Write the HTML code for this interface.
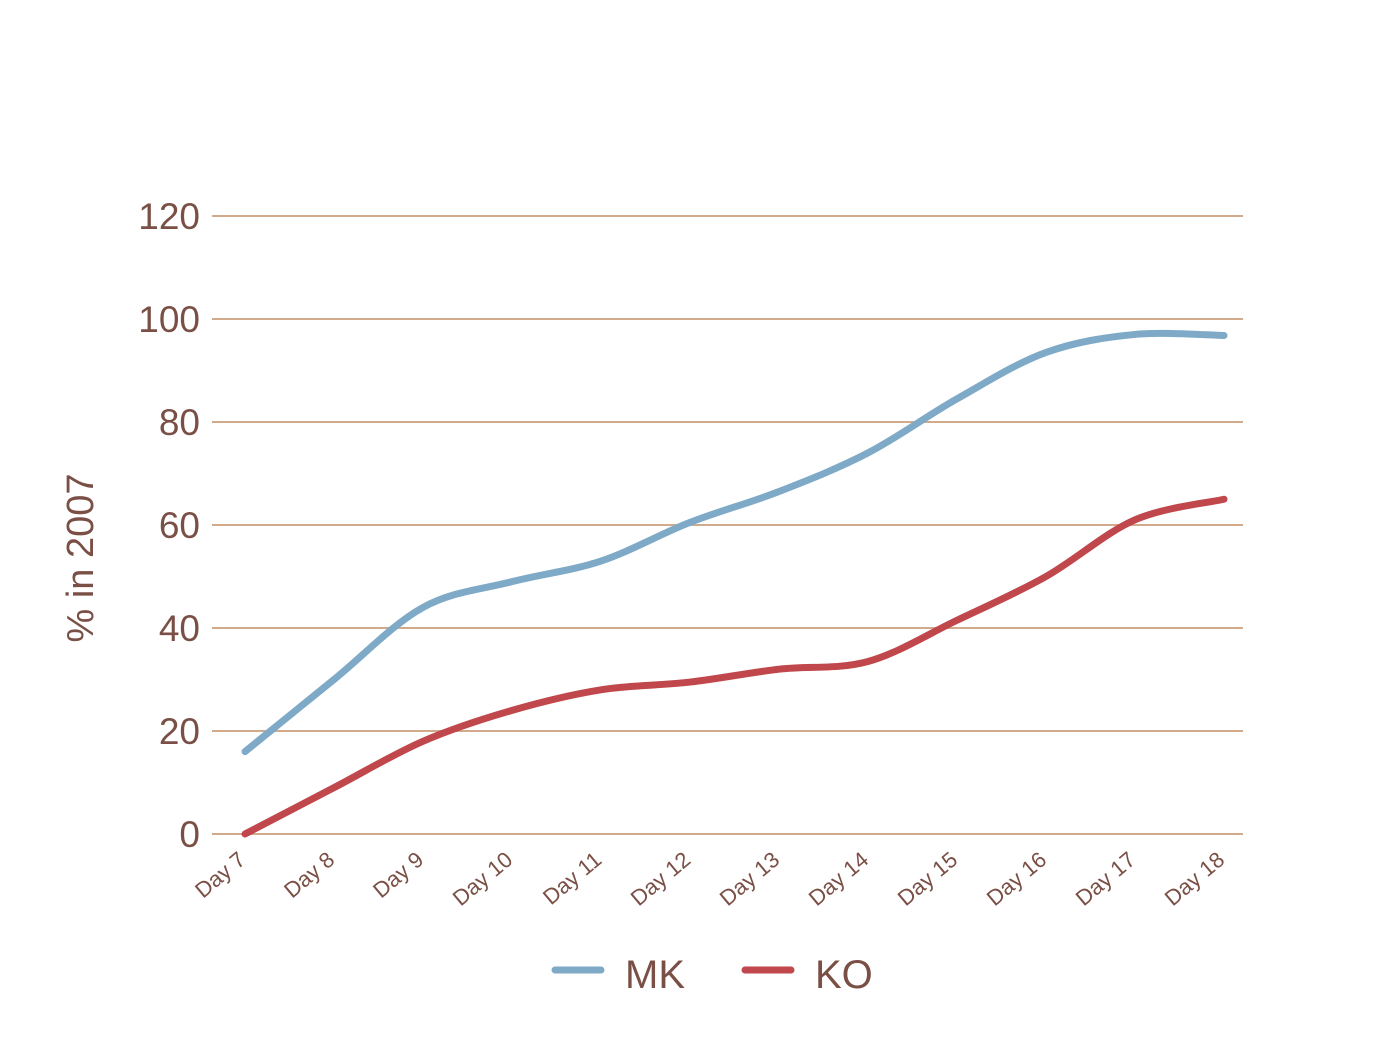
<!DOCTYPE html>
<html><head><meta charset="utf-8">
<style>
html,body{margin:0;padding:0;background:#fff;}
svg{display:block;font-family:"Liberation Sans",sans-serif;}
</style></head>
<body>
<svg id="chart" width="1400" height="1049" viewBox="0 0 1400 1049" xmlns="http://www.w3.org/2000/svg">
  <g id="grid"></g>
  <g id="yticks"></g>
  <g id="xticks"></g>
  <g id="lines"></g>
  <text x="93" y="558" transform="rotate(-90 93 558)" text-anchor="middle" font-size="38" fill="#7a4f45">% in 2007</text>
  <g>
    <g>
      <line x1="555" y1="970" x2="601" y2="970" stroke="#7eaac8" stroke-width="7" stroke-linecap="round"/>
      <text x="625" y="988" font-size="40" fill="#7a4f45">MK</text>
    </g>
    <g>
      <line x1="745" y1="970" x2="791" y2="970" stroke="#c0474b" stroke-width="7" stroke-linecap="round"/>
      <text x="815" y="988" font-size="40" fill="#7a4f45">KO</text>
    </g>
  </g>
</svg>
<script>
const categories = ["Day 7","Day 8","Day 9","Day 10","Day 11","Day 12","Day 13","Day 14","Day 15","Day 16","Day 17","Day 18"];
const mkValues = [16, 30, 44, 49, 53, 60.5, 66.5, 74, 84.5, 93.5, 97, 96.8];
const koValues = [0, 9, 18, 24, 28, 29.5, 32, 33.5, 41.5, 50, 61, 65];
const yTicks = [0, 20, 40, 60, 80, 100, 120];

const NS = "http://www.w3.org/2000/svg";
const x0 = 245, x1 = 1224, yBase = 834, yTop = 216, yMax = 120;
function xScale(i){ return x0 + i * (x1 - x0) / (categories.length - 1); }
function yScale(v){ return yBase - v * (yBase - yTop) / yMax; }

const grid = document.getElementById('grid');
const yt = document.getElementById('yticks');
yTicks.forEach(t => {
  const l = document.createElementNS(NS,'line');
  
  
  l.setAttribute('x1',212); l.setAttribute('x2',1243);
  l.setAttribute('y1',yScale(t)); l.setAttribute('y2',yScale(t));
  l.setAttribute('stroke','#d2aa8c'); l.setAttribute('stroke-width',2);
  grid.appendChild(l);
  const tx = document.createElementNS(NS,'text');
  
  
  tx.setAttribute('x',200); tx.setAttribute('y',yScale(t)+13);
  tx.setAttribute('text-anchor','end'); tx.setAttribute('font-size',37);
  tx.setAttribute('fill','#7a4f45');
  tx.textContent = t;
  yt.appendChild(tx);
});

const xt = document.getElementById('xticks');
categories.forEach((c,i) => {
  const tx = document.createElementNS(NS,'text');
  
  
  const x = xScale(i) + 2, y = 862;
  tx.setAttribute('x',x); tx.setAttribute('y',y);
  tx.setAttribute('text-anchor','end');
  tx.setAttribute('transform','rotate(-40 '+x+' '+y+')');
  tx.setAttribute('font-size',22); tx.setAttribute('fill','#7a4f45');
  tx.textContent = c;
  xt.appendChild(tx);
});

function smoothPath(vals){
  const p = vals.map((v,i)=>[xScale(i), yScale(v)]);
  let d = 'M'+p[0][0]+','+p[0][1];
  for(let i=0;i<p.length-1;i++){
    const a=p[Math.max(i-1,0)], b=p[i], c=p[i+1], e=p[Math.min(i+2,p.length-1)];
    const c1=[b[0]+(c[0]-a[0])/6, b[1]+(c[1]-a[1])/6];
    const c2=[c[0]-(e[0]-b[0])/6, c[1]-(e[1]-b[1])/6];
    d += ' C'+c1[0]+','+c1[1]+' '+c2[0]+','+c2[1]+' '+c[0]+','+c[1];
  }
  return d;
}
const lines = document.getElementById('lines');
[[mkValues,'#7eaac8','line-mk'],[koValues,'#c0474b','line-ko']].forEach(s => {
  const path = document.createElementNS(NS,'path');
  
  
  path.setAttribute('d', smoothPath(s[0]));
  path.setAttribute('fill','none'); path.setAttribute('stroke',s[1]);
  path.setAttribute('stroke-width',7); path.setAttribute('stroke-linecap','round');
  lines.appendChild(path);
});
</script>
</body></html>
